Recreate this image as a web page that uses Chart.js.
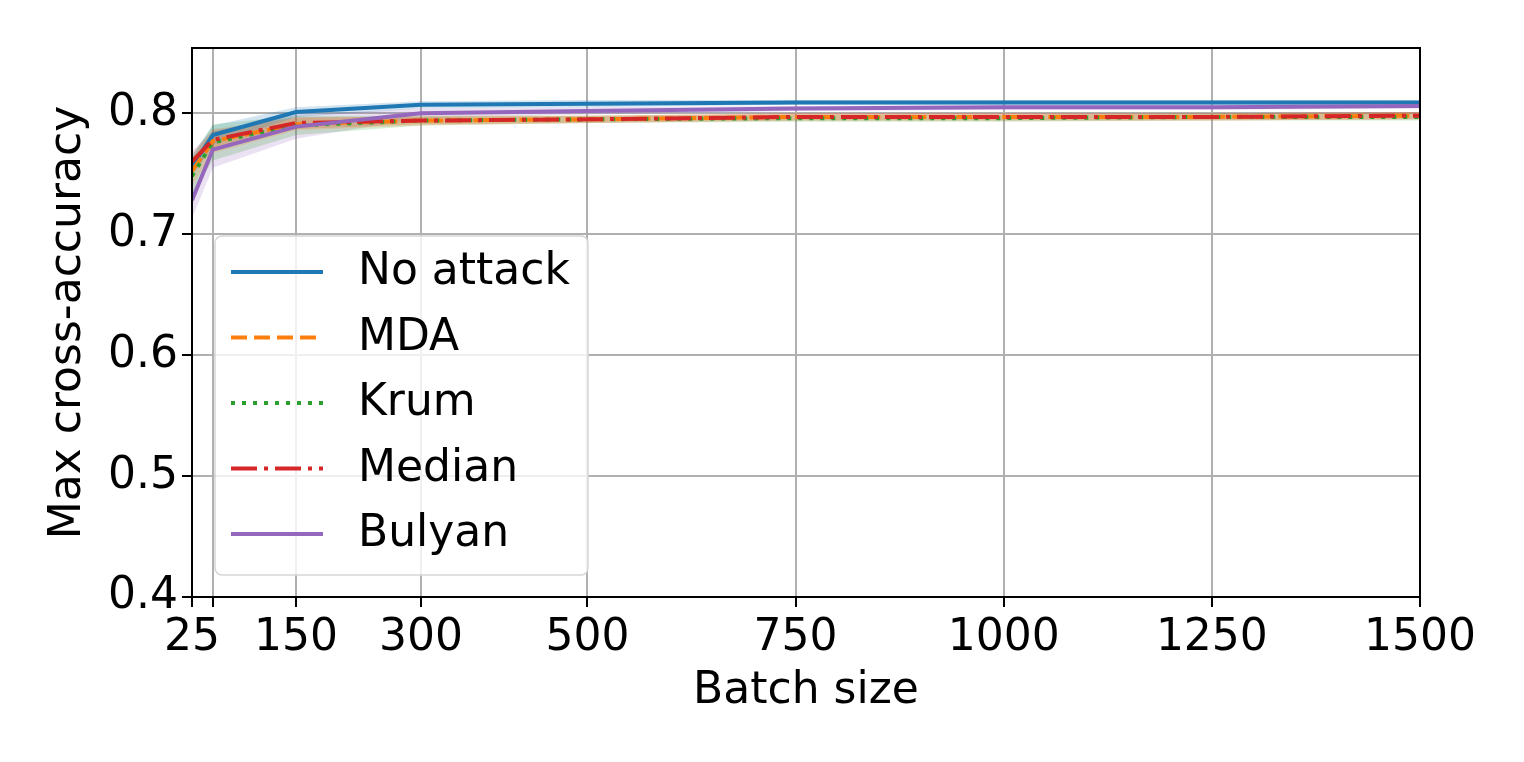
<!DOCTYPE html>
<html>
<head>
<meta charset="utf-8">
<script src="https://cdn.jsdelivr.net/npm/chart.js@4/dist/chart.umd.min.js"></script>
<style>
  html, body { margin: 0; padding: 0; background: #fff; }
  #wrap { width: 1524px; height: 762px; }
</style>
</head>
<body>
<div id="wrap"><canvas id="Chart_1" width="1524" height="762"></canvas></div>
<script>
// batch sizes (x) and tick marks
let batchSizes = [25, 50, 150, 300, 500, 750, 1000, 1250, 1500];
let xTicks = [25, 50, 150, 300, 500, 750, 1000, 1250, 1500];
let yTicks = [0.4, 0.5, 0.6, 0.7, 0.8];

// mean max cross-accuracy per aggregation rule
let noAttack = [0.756, 0.782, 0.801, 0.807, 0.808, 0.809, 0.809, 0.809, 0.809];
let mda      = [0.752, 0.777, 0.791, 0.794, 0.795, 0.797, 0.797, 0.797, 0.798];
let krum     = [0.748, 0.776, 0.790, 0.794, 0.795, 0.796, 0.796, 0.797, 0.797];
let median   = [0.760, 0.778, 0.792, 0.794, 0.795, 0.797, 0.797, 0.797, 0.798];
let bulyan   = [0.728, 0.770, 0.789, 0.800, 0.802, 0.804, 0.805, 0.805, 0.806];

// spread of the shaded band
let noAttackSd = [0.010, 0.008, 0.004, 0.003, 0.003, 0.002, 0.002, 0.002, 0.002];
let mdaSd      = [0.012, 0.010, 0.005, 0.004, 0.003, 0.003, 0.003, 0.003, 0.003];
let krumSd     = [0.015, 0.015, 0.008, 0.004, 0.003, 0.003, 0.003, 0.003, 0.003];
let medianSd   = [0.008, 0.008, 0.005, 0.003, 0.003, 0.003, 0.003, 0.003, 0.003];
let bulyanSd   = [0.015, 0.015, 0.010, 0.004, 0.003, 0.002, 0.002, 0.002, 0.002];

let names = ['No attack', 'MDA', 'Krum', 'Median', 'Bulyan'];
let means = [noAttack, mda, krum, median, bulyan];
let spreads = [noAttackSd, mdaSd, krumSd, medianSd, bulyanSd];
let colors = ['31,119,180', '255,127,14', '44,160,44', '214,39,40', '148,103,189'];
let dashes = [[], [16, 7], [4, 7], [26, 7, 4, 7], []];

const FONT = "'DejaVu Sans', sans-serif";

function pts(arr) { return batchSizes.map((x, i) => ({ x: x, y: arr[i] })); }

let datasets = [];
// bands first
for (let s = 0; s < names.length; s++) {
  let up = means[s].map((v, i) => v + spreads[s][i]);
  let lo = means[s].map((v, i) => v - spreads[s][i]);
  datasets.push({ data: pts(up), borderWidth: 0, pointRadius: 0, fill: false, order: 20, borderColor: 'transparent' });
  datasets.push({ data: pts(lo), borderWidth: 0, pointRadius: 0, fill: '-1', order: 20, borderColor: 'transparent',
    backgroundColor: 'rgba(' + colors[s] + ',0.2)' });
}
// lines
for (let s = 0; s < names.length; s++) {
  datasets.push({ label: names[s], data: pts(means[s]), borderColor: 'rgb(' + colors[s] + ')',
    borderWidth: 4, borderDash: dashes[s], pointRadius: 0, fill: false, tension: 0, order: 10 - s });
}

let frameLegend = {
  id: 'frameLegend',
  afterDraw(chart) {
    let c = chart.ctx, a = chart.chartArea;
    c.save();
    c.strokeStyle = '#000'; c.lineWidth = 2;
    c.strokeRect(a.left, a.top, a.right - a.left, a.bottom - a.top);
    // legend box
    let bx = a.left + 23, by = a.top + 188, bw = 373, bh = 339;
    c.beginPath();
    c.roundRect(bx, by, bw, bh, 7);
    c.fillStyle = 'rgba(255,255,255,0.8)'; c.fill();
    c.strokeStyle = '#d6d6d6'; c.lineWidth = 1.5; c.stroke();
    c.font = '44px ' + FONT; c.textBaseline = 'middle'; c.fillStyle = '#000';
    for (let s = 0; s < names.length; s++) {
      let yy = by + 36 + s * 65.5;
      c.beginPath();
      c.setLineDash(dashes[s]);
      c.strokeStyle = 'rgb(' + colors[s] + ')'; c.lineWidth = 4;
      c.moveTo(bx + 16, yy); c.lineTo(bx + 108, yy); c.stroke();
      c.setLineDash([]);
      c.fillText(names[s], bx + 143, yy + 1);
    }
    c.restore();
  }
};

let cxt = document.getElementById('Chart_1');
let grafico = new Chart(cxt, {
  type: 'line',
  data: { datasets: datasets },
  options: {
    responsive: false,
    animation: false,
    layout: { padding: { top: 48, right: 104, left: 0, bottom: 0 } },
    plugins: { legend: { display: false }, tooltip: { enabled: false } },
    scales: {
      x: {
        type: 'linear', min: 25, max: 1500,
        afterBuildTicks: (sc) => { sc.ticks = xTicks.map(v => ({ value: v })); },
        afterFit: (sc) => { sc.height = 165; },
        ticks: { font: { family: FONT, size: 44 }, color: '#000', padding: 5, maxRotation: 0, autoSkip: false,
          callback: (v) => (v === 50 ? '' : String(v)) },
        grid: { color: '#b0b0b0', lineWidth: 2, tickColor: '#000', tickLength: 10 },
        border: { display: false },
        title: { display: true, text: 'Batch size', font: { family: FONT, size: 44 }, color: '#000', padding: { top: 0, bottom: 44 } }
      },
      y: {
        min: 0.4, max: 0.854,
        afterBuildTicks: (sc) => { sc.ticks = yTicks.map(v => ({ value: v })); },
        afterFit: (sc) => { sc.width = 192; },
        ticks: { font: { family: FONT, size: 44 }, color: '#000', padding: 4,
          callback: (v) => v.toFixed(1) },
        grid: { color: '#b0b0b0', lineWidth: 2, tickColor: '#000', tickLength: 10 },
        border: { display: false },
        title: { display: true, text: 'Max cross-accuracy', font: { family: FONT, size: 44 }, color: '#000', padding: { top: 42, bottom: 8 } }
      }
    }
  },
  plugins: [frameLegend]
});
</script>
</body>
</html>
